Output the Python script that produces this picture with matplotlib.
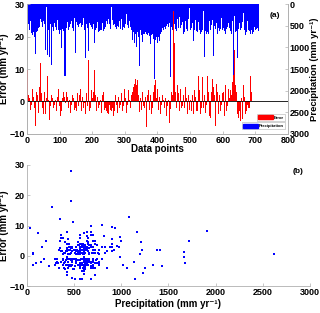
import numpy as np
import matplotlib as mpl
mpl.use('Agg')
import matplotlib.pyplot as plt
from matplotlib.patches import Patch

plt.rcParams['font.family'] = ['Liberation Sans', 'DejaVu Sans']
plt.rcParams['font.weight'] = 'bold'

# precipitation per data point (every 2nd point), mm/yr
precip = [
    680, 720, 450, 700, 610, 390, 740, 660, 720, 420, 650, 760, 660, 1150, 640, 380, 620, 560, 830, 540,
    350, 480, 420, 520, 450, 390, 470, 300, 1060, 560, 60, 1165, 520, 600, 1230, 510, 470, 1410, 460, 540,
    620, 580, 430, 540, 935, 600, 360, 640, 590, 700, 420, 610, 660, 1020, 580, 440, 620, 1665, 740, 1665,
    560, 480, 420, 600, 120, 520, 470, 985, 380, 560, 440, 620, 330, 680, 1140, 560, 410, 480, 950, 520,
    460, 500, 430, 540, 180, 480, 320, 450, 600, 1250, 510, 470, 560, 390, 1080, 440, 520, 480, 540, 600,
    580, 620, 450, 900, 640, 600, 560, 985, 410, 650, 570, 620, 590, 795, 600, 440, 560, 620, 580, 1380,
    520, 380, 560, 450, 600, 340, 470, 540, 580, 70, 510, 360, 490, 620, 450, 530, 310, 570, 510, 460,
    540, 400, 460, 580, 350, 30, 600, 440, 530, 560, 320, 470, 230, 510, 480, 550, 590, 380, 520, 560,
    600, 830, 560, 650, 900, 620, 700, 1000, 580, 640, 760, 620, 1430, 680, 600, 720, 650, 880, 700, 640,
    700, 650, 760, 680, 720, 800, 660, 740, 690, 920, 710, 760, 680, 800, 730, 1720, 700, 820, 750, 680,
    900, 760, 1340, 850, 700, 980, 640, 560, 480, 600, 520, 160, 580, 500, 620, 470, 540, 600, 430, 560,
    1675, 520, 380, 600, 470, 540, 470, 580, 490, 620, 350, 450, 560, 300, 900, 560, 480, 620, 410, 700,
    560, 640, 400, 700, 580, 900, 620, 340, 660, 100, 600, 720, 560, 440, 520, 850, 600, 680, 370, 620,
    580, 650, 420, 700, 600, 680, 360, 640, 720, 600, 150, 660, 1220, 620, 450, 700, 640, 560, 680, 400,
    520, 600, 480, 640, 360, 1210, 620, 500, 580, 660, 440, 600, 700, 560, 65, 620, 580, 650, 320, 600,
    480, 560, 620, 400, 700, 580, 640, 520, 430, 680, 560, 620, 540, 700, 380, 650, 1910, 2620, 270, 640,
    560, 620, 1250, 700, 580, 440, 1200, 600, 560, 680, 420, 200, 660, 600, 720, 560, 640, 380, 700, 600,
    560, 620, 680, 540, 600, 700, 580, 640, 520, 660, 600, 580, 640, 560, 620,
]

# error per data point, mm/yr
error = [
    9.7, -6.5, 2.0, -3.0, 1.0, -2.5, 3.5, -1.0, 4.0, -0.5, 1.5, -2.0, 0.5, -7.6, 3.0, -1.5, 2.0, -3.5, 1.0, 4.5,
    12.0, -1.5, 2.5, -2.0, 0.5, -4.0, 3.0, -1.0, -4.0, 1.5, 1.0, 7.9, -2.5, 0.5, -5.6, 2.0, -1.5, 2.0, -3.0, 1.0,
    -2.0, 3.5, -1.0, 0.5, 9.2, -3.0, 1.5, -2.5, 4.0, -1.5, 2.0, -4.5, 0.5, -3.0, 1.0, -2.0, 3.0, 1.3, -1.0, -0.4,
    3.0, -7.2, 1.5, -2.0, 7.5, 0.5, -3.5, 6.3, -1.0, 2.0, -4.0, 1.0, -2.5, 3.5, -2.0, 0.5, -3.0, 2.5, 3.3, -1.5,
    2.0, -1.0, 4.0, -3.0, -1.0, 1.5, -2.0, 3.0, -0.5, -4.0, -7.8, 2.5, -1.5, 1.0, 12.9, -3.0, 0.5, -2.0, 3.5, -1.0,
    1.0, -2.5, 3.0, 9.6, -1.5, 2.0, -3.0, -0.3, 1.5, -2.0, 4.0, -1.0, 0.5, 10.2, -3.5, 2.0, -1.5, 3.0, -2.5, 2.0,
    -2.0, -3.0, -1.5, -3.5, -2.0, -4.0, -1.0, -3.0, -2.5, -3.0, 1.0, -2.0, -4.5, -1.5, -3.0, 2.0, -2.5, -1.0, -3.5, 0.5,
    1.5, -2.0, 3.0, -1.0, 2.5, 9.3, -3.0, 0.5, -1.5, 4.0, -2.5, 1.0, -3.5, 2.0, -1.0, 3.5, -4.0, 0.5, -2.0, 1.5,
    2.0, 3.0, -1.5, 4.5, 5.5, -2.0, 7.0, 5.0, -1.0, 6.5, 2.0, -3.0, -3.3, 7.0, 1.0, -2.5, 4.0, 3.0, -1.5, 2.5,
    -2.0, 1.5, -3.0, -7.8, 2.0, -1.0, 3.5, -2.5, 1.0, 2.0, -4.0, 0.5, -2.0, 3.0, -1.5, 5.0, -3.5, 6.5, 1.0, -2.0,
    4.0, -2.5, -3.0, 1.5, -4.0, 3.0, -1.0, 2.0, -3.0, 0.5, -2.0, 3.0, 1.0, -4.5, 2.5, -1.5, 0.5, -3.0, -6.5, 1.0,
    -2.3, 3.0, -1.0, 2.0, 28.0, -1.5, 18.0, 3.0, 11.0, -2.0, 5.0, -1.0, 2.5, -3.0, 1.5, 4.0, -2.0, 3.5, -1.5, 2.0,
    3.0, -2.0, 4.5, -3.5, 1.0, 3.0, -4.0, 2.0, -1.5, -2.5, 0.5, 5.0, -3.0, 2.0, -1.0, -4.0, 3.5, -2.0, 1.5, -3.0,
    2.0, -3.0, 8.0, -1.5, 3.5, -4.0, 6.0, -2.0, 1.0, 7.5, -2.0, 2.5, 2.0, -3.5, 4.0, -1.0, 8.0, -2.5, 3.0, -4.5,
    1.5, -5.0, 3.0, -2.0, 7.0, 4.5, -3.0, 2.0, -7.5, 1.0, 5.5, -1.5, 3.0, -4.0, 0.5, 2.0, -3.0, 6.0, -1.0, 2.5,
    -2.0, 3.0, -4.5, 1.0, 5.0, -3.0, 2.0, -1.5, 4.0, -2.5, 1.0, 3.5, -3.0, 2.0, 6.0, -1.0, 8.3, 0.7, 16.0, 5.0,
    7.0, 3.0, -4.0, 2.0, -5.0, -3.0, 0.5, -6.0, 1.0, -3.5, -5.5, 5.0, -2.0, 1.5, -4.0, -7.8, -3.0, -1.0, 1.0, -2.0,
    6.0, -2.0, 8.0, 1.0, 3.0,
]

step = 2
x_p = np.arange(len(precip)) * step + 1
x_e = np.arange(len(error)) * step + 1
gray = '#b0b0b0'
lab = 'Precipitation (mm yr⁻¹)'
elab = 'Error (mm yr⁻¹)'

fig = plt.figure(figsize=(3.2, 3.13), dpi=100)

# ---- (a) bars ----
ax = fig.add_axes([0.084, 0.572, 0.816, 0.415])
ax2 = ax.twinx()
ax2.bar(x_p, precip, width=step, color='#0000ff', linewidth=0)
ax2.set_ylim(3000, 0)
ax2.set_yticks(range(0, 3001, 500))
ax2.set_ylabel(lab, fontsize=6.8, fontweight='bold', labelpad=0)

ax.bar(x_e, error, width=step, color='#ff0000', linewidth=0)
ax.axhline(0, color='k', lw=0.6)
ax.set_zorder(ax2.get_zorder() + 1)
ax.patch.set_visible(False)
ax.set_xlim(0, 800)
ax.set_ylim(-10, 30)
ax.set_xticks(range(0, 801, 100))
ax.set_yticks(range(-10, 31, 10))
ax.set_xlabel('Data points', fontsize=7, fontweight='bold', labelpad=-1)
ax.set_ylabel(elab, fontsize=7, fontweight='bold', labelpad=0)
ax.text(0.95, 0.915, '(a)', transform=ax.transAxes, ha='center', va='center', fontsize=6, fontweight='bold')

for a in (ax, ax2):
    a.tick_params(labelsize=6.5, direction='in', length=2, width=0.5, color=gray, pad=1.5)
    for s in a.spines.values():
        s.set_color(gray)
        s.set_linewidth(0.6)
    a.spines['top'].set_visible(False)
ax2.tick_params(pad=1)

leg1 = ax.legend([Patch(color='#ff0000')], ['Error'], loc='lower right',
                 bbox_to_anchor=(0.989, 0.1), fontsize=3, handlelength=3.5, handleheight=1.2,
                 borderpad=0.3, handletextpad=0.3, fancybox=False, framealpha=1, edgecolor=gray,
                 borderaxespad=0)
leg1.get_frame().set_linewidth(0.4)
ax.add_artist(leg1)
leg2 = ax.legend([Patch(color='#0000ff')], ['Precipitation'], loc='lower right',
                 bbox_to_anchor=(0.989, 0.035), fontsize=3, handlelength=3.5, handleheight=1.2,
                 borderpad=0.3, handletextpad=0.3, fancybox=False, framealpha=1, edgecolor=gray,
                 borderaxespad=0)
leg2.get_frame().set_linewidth(0.4)

# ---- (b) scatter ----
n = min(len(precip), len(error))
bx = fig.add_axes([0.084, 0.086, 0.885, 0.387])
bx.scatter(precip[:n], error[:n], s=3, color='#0000ff', marker='s', linewidths=0)
bx.set_xlim(0, 3000)
bx.set_ylim(-10, 30)
bx.set_xticks(range(0, 3001, 500))
bx.set_yticks(range(-10, 31, 10))
bx.set_xlabel(lab, fontsize=7, fontweight='bold', labelpad=1.5)
bx.set_ylabel(elab, fontsize=7, fontweight='bold', labelpad=0)
bx.tick_params(labelsize=6.5, direction='in', length=2, width=0.5, color=gray, pad=1.5)
for s in ['top', 'right']:
    bx.spines[s].set_visible(False)
for s in ['left', 'bottom']:
    bx.spines[s].set_color(gray)
    bx.spines[s].set_linewidth(0.6)
bx.text(0.958, 0.942, '(b)', transform=bx.transAxes, ha='center', va='center', fontsize=6, fontweight='bold')

fig.savefig('out.png', dpi=100)
